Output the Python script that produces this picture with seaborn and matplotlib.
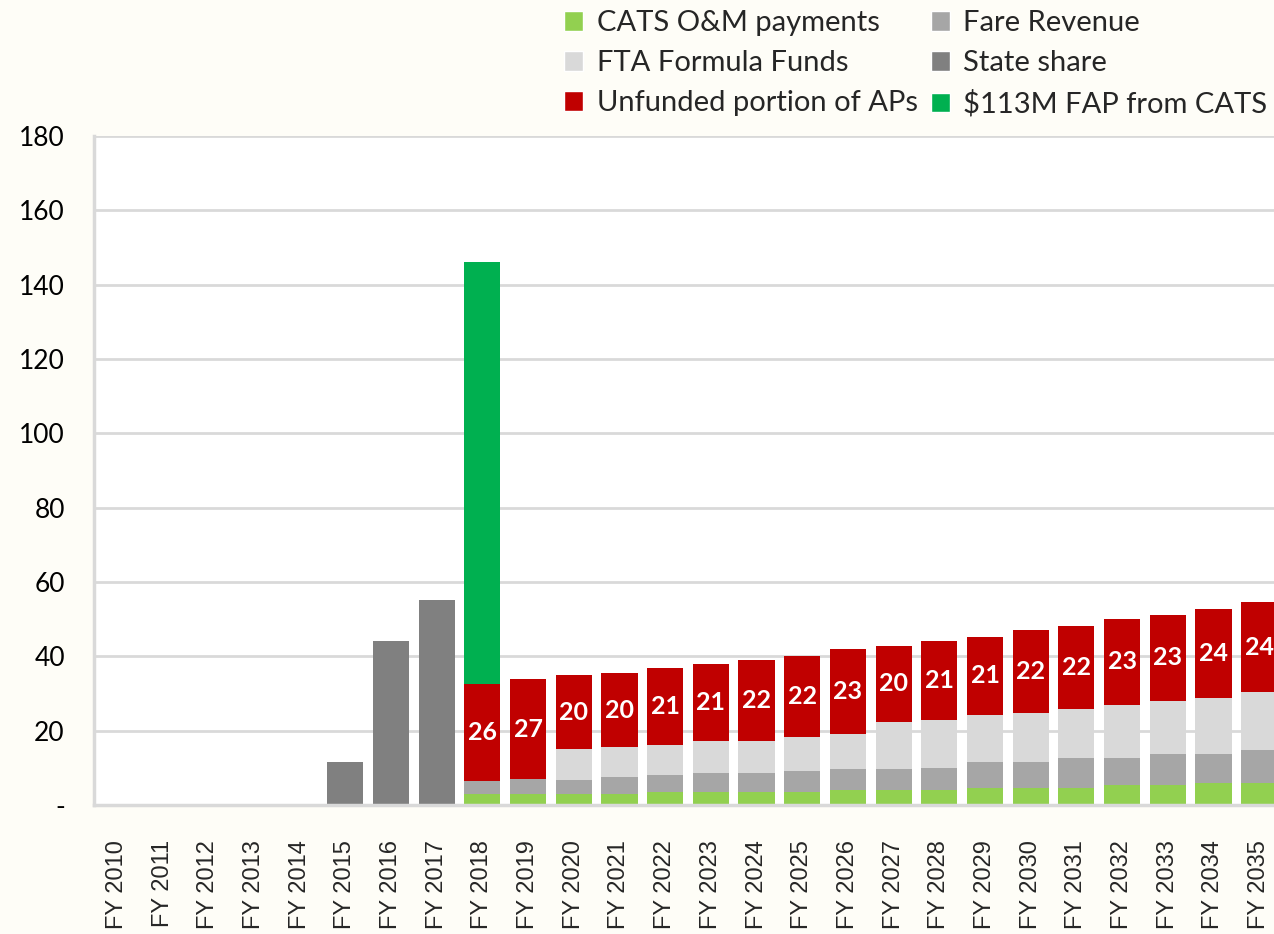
import numpy as np
import pandas as pd
import seaborn as sns
import matplotlib.pyplot as plt
from matplotlib.patches import Patch

# Data ($M per fiscal year)
years = ["FY %d" % y for y in range(2010, 2036)]

state_share = [0, 0, 0, 0, 0, 11.7, 44.2, 55.1] + [0] * 18
cats_om = [0] * 8 + [2.9, 2.9, 2.9, 2.9, 3.4, 3.4, 3.4, 3.5, 4.0, 4.0,
                     4.0, 4.7, 4.7, 4.7, 5.3, 5.3, 5.9, 5.9]
fare_revenue = [0] * 8 + [3.5, 4.0, 3.9, 4.6, 4.7, 5.3, 5.3, 5.6, 5.7, 5.7,
                          6.0, 6.8, 6.8, 7.9, 7.3, 8.5, 7.9, 9.0]
fta_formula = [0] * 8 + [0, 0, 8.2, 8.0, 8.0, 8.5, 8.5, 9.3, 9.3, 12.7,
                         13.0, 12.7, 13.2, 13.3, 14.4, 14.3, 14.9, 15.5]
unfunded = [0] * 8 + [26.1, 26.9, 20.0, 20.0, 20.7, 20.7, 21.8, 21.8, 22.9, 20.4,
                      21.2, 21.1, 22.3, 22.3, 23.0, 23.0, 24.1, 24.1]
fap_cats = [0] * 8 + [113.5] + [0] * 17

layers = [
    ("CATS O&M payments", cats_om, "#92D050"),
    ("Fare Revenue", fare_revenue, "#A6A6A6"),
    ("FTA Formula Funds", fta_formula, "#D9D9D9"),
    ("Unfunded portion of APs", unfunded, "#C00000"),
    ("$113M FAP from CATS", fap_cats, "#00B050"),
    ("State share", state_share, "#808080"),
]

sns.set_style("white")
plt.rcParams["font.family"] = ["Lato", "DejaVu Sans"]

bg = "#FEFDF7"
fig = plt.figure(figsize=(12.74, 9.34), dpi=100, facecolor=bg)
ax = fig.add_axes([94 / 1274, 129 / 934, 1188 / 1274, 669 / 934])
ax.set_facecolor("white")

bottom = np.zeros(len(years))
for name, vals, col in layers:
    df = pd.DataFrame({"year": years, "value": vals})
    sns.barplot(data=df, x="year", y="value", order=years, color=col,
                width=0.79, errorbar=None, bottom=bottom, ax=ax,
                saturation=1, linewidth=0)
    if name == "Unfunded portion of APs":
        for i, v in enumerate(vals):
            if v > 0:
                ax.text(i, bottom[i] + v / 2, "%d" % round(v), color="white",
                        fontsize=18, fontweight="bold", ha="center", va="center")
    bottom = bottom + np.array(vals)

ax.set_xlim(-0.5, 25.5)
ax.set_ylim(0, 180)
ax.set_yticks(range(0, 181, 20))
ax.set_yticklabels(["-"] + [str(v) for v in range(20, 181, 20)], fontsize=19)
ax.set_xticks(range(len(years)))
ax.set_xticklabels(years, rotation=90, fontsize=17, fontfamily="Liberation Sans")
ax.set_xlabel("")
ax.set_ylabel("")
ax.grid(axis="y", color="#D9D9D9", linewidth=2)
ax.set_axisbelow(True)
ax.tick_params(axis="y", length=8, width=2, color="#D9D9D9", pad=13, labelcolor="black")
ax.tick_params(axis="x", length=0, pad=25)
for s in ["top", "right"]:
    ax.spines[s].set_visible(False)
for s in ["left", "bottom"]:
    ax.spines[s].set_color("#D9D9D9")
    ax.spines[s].set_linewidth(2.5)

order = [0, 2, 3, 1, 5, 4]
handles = [Patch(facecolor=layers[i][2], label=layers[i][0]) for i in order]
fig.legend(handles=handles, ncol=2, loc="upper right", bbox_to_anchor=(1.015, 1.017),
           frameon=False, fontsize=21, handlelength=0.65, handleheight=0.65,
           handletextpad=0.45, columnspacing=0.45, labelspacing=0.48)

fig.savefig("out.png", dpi=100, facecolor=bg)
